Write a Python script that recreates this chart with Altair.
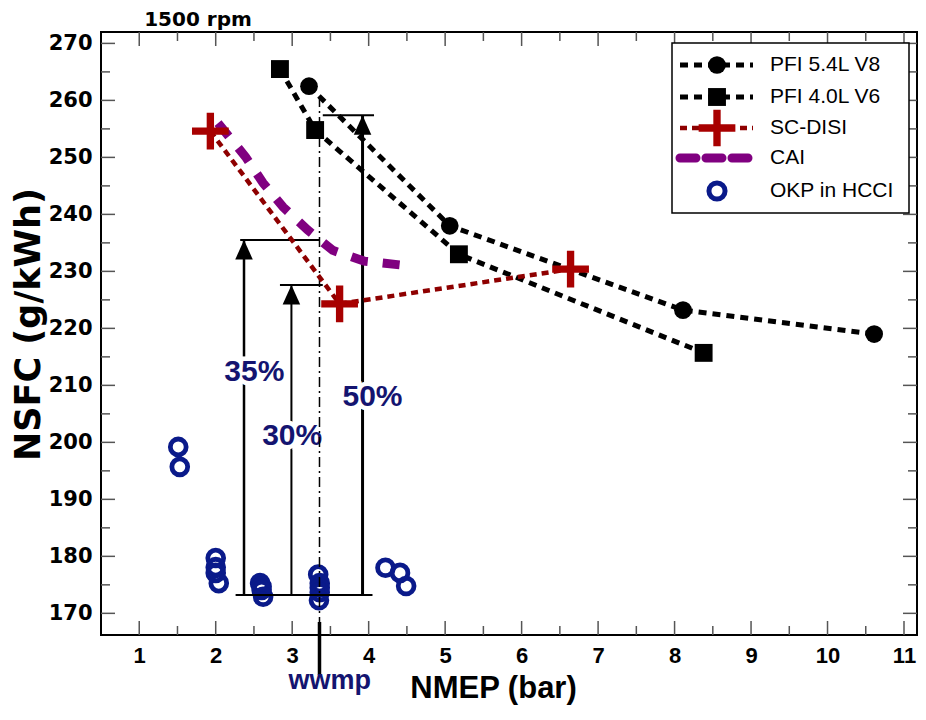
import altair as alt
import pandas as pd

# ---------------- data ----------------
v8_x = [3.22, 5.06, 8.11, 10.61]
v8_y = [262.5, 238.0, 223.2, 219.0]

v6_x = [2.84, 3.30, 5.18, 8.38]
v6_y = [265.5, 254.8, 233.0, 215.7]

disi_x = [1.93, 3.62, 6.64]
disi_y = [254.6, 224.3, 230.4]

cai_x = [2.03, 2.39, 2.62, 2.88, 3.20, 3.53, 3.94, 4.50]
cai_y = [256.0, 250.1, 245.5, 241.3, 237.3, 233.7, 231.8, 231.0]

okp_x = [1.51, 1.53, 2.00, 2.00, 2.00, 2.04, 2.58, 2.60, 2.60, 2.62,
         3.34, 3.36, 3.36, 3.36, 3.35, 4.22, 4.41, 4.49]
okp_y = [199.2, 195.7, 179.7, 178.1, 177.1, 175.3, 175.3, 174.7, 174.1, 172.9,
         176.8, 175.3, 174.5, 173.7, 172.3, 178.0, 177.1, 174.8]

# annotation values
wwmp_x = 3.357
wwmp_top = 260.6
base_y = 173.2
base_x1, base_x2 = 2.26, 4.05
arrow_labels = ["35%", "30%", "50%"]
arrow_x = [2.37, 2.99, 3.92]
arrow_top = [235.5, 227.6, 257.4]
bar_x1 = [2.32, 2.84, 3.40]
bar_x2 = [3.36, 3.40, 4.07]
label_x = [2.505, 3.00, 4.05]
label_y = [212.3, 201.1, 207.9]

x_major = [1, 2, 3, 4, 5, 6, 7, 8, 9, 10, 11]
x_minor = [1.5, 2.5, 3.5, 4.5, 5.5, 6.5, 7.5, 8.5, 9.5, 10.5]
y_major = [170, 180, 190, 200, 210, 220, 230, 240, 250, 260, 270]
y_minor = [175, 185, 195, 205, 215, 225, 235, 245, 255, 265]

legend_names = ["PFI 5.4L V8", "PFI 4.0L V6", "SC-DISI", "CAI", "OKP in HCCI"]

# ---------------- styles / layout ----------------
W, H = 816, 603
NAVY = "#0a1a8a"
TXT_NAVY = "#141470"
RED_M = "#a80000"
RED_L = "#8e0000"
PURPLE = "#800080"
TICK = "#555555"
CROSS = "M-1,-0.2H-0.2V-1H0.2V-0.2H1V0.2H0.2V1H-0.2V0.2H-1Z"
TRI = "M0,-1L-0.9,1L0.9,1Z"
XFONT = "Liberation Sans"

xs = alt.Scale(domain=[0.5, 11.17], nice=False, zero=False)
ys = alt.Scale(domain=[166.2, 272], nice=False, zero=False)

xaxis = alt.Axis(values=x_major, ticks=False, domain=False, grid=False,
                 labelFont=XFONT, labelFontWeight="bold",
                 labelFontSize=22, labelColor="black", labelPadding=10,
                 title="NMEP (bar)", titleFont=XFONT,
                 titleFontWeight="bold", titleFontSize=31, titleColor="black",
                 titleX=392, titleY=53, titleAlign="center", titleBaseline="middle")
yaxis = alt.Axis(values=y_major, ticks=False, domain=False, grid=False,
                 labelFont="DejaVu Sans", labelFontWeight="bold",
                 labelFontSize=21, labelColor="black", labelPadding=9,
                 title="NSFC (g/kWh)", titleFont="DejaVu Sans",
                 titleFontWeight="bold", titleFontSize=35, titleColor="black",
                 titleAngle=270, titleX=-73, titleY=292, titleAlign="center",
                 titleBaseline="middle")


def X(f="x"):
    return alt.X(f + ":Q", scale=xs, axis=xaxis)


def Y(f="y"):
    return alt.Y(f + ":Q", scale=ys, axis=yaxis)


def df(**kw):
    return pd.DataFrame(kw)


one = df(a=[0])
layers = []

# ---- inward ticks on all four sides ----
for vals, ln in ((x_major, 14), (x_minor, 9)):
    d = df(x=vals)
    layers.append(alt.Chart(d).mark_rule(color=TICK, strokeWidth=1.5).encode(
        x=X(), y=alt.value(H), y2=alt.value(H - ln)))
    layers.append(alt.Chart(d).mark_rule(color=TICK, strokeWidth=1.5).encode(
        x=X(), y=alt.value(0), y2=alt.value(ln)))
for vals, ln in ((y_major, 14), (y_minor, 9)):
    d = df(y=vals)
    layers.append(alt.Chart(d).mark_rule(color=TICK, strokeWidth=1.5).encode(
        y=Y(), x=alt.value(0), x2=alt.value(ln)))
    layers.append(alt.Chart(d).mark_rule(color=TICK, strokeWidth=1.5).encode(
        y=Y(), x=alt.value(W), x2=alt.value(W - ln)))

# ---- OKP in HCCI (open circles) ----
layers.append(alt.Chart(df(x=okp_x, y=okp_y)).mark_point(
    shape="circle", size=250, filled=False, stroke=NAVY, strokeWidth=4.8,
    opacity=1).encode(x=X(), y=Y()))

# ---- arrows ----
layers.append(alt.Chart(df(x=[base_x1], x2=[base_x2], y=[base_y])).mark_rule(
    color="black", strokeWidth=2).encode(x=X(), x2="x2:Q", y=Y()))
arrow_w = [2.5, 2.0, 3.0]
for i in range(3):
    layers.append(alt.Chart(df(x=[arrow_x[i]], y=[base_y], y2=[arrow_top[i]])).mark_rule(
        color="black", strokeWidth=arrow_w[i]).encode(x=X(), y=Y(), y2="y2:Q"))
layers.append(alt.Chart(df(x=bar_x1, x2=bar_x2, y=arrow_top)).mark_rule(
    color="black", strokeWidth=2).encode(x=X(), x2="x2:Q", y=Y()))
layers.append(alt.Chart(df(x=arrow_x, y=arrow_top)).mark_point(
    shape=TRI, size=380, filled=True, color="black", opacity=1, yOffset=9.7,
    strokeWidth=0).encode(x=X(), y=Y()))

# ---- percentage labels (with white halo that breaks the lines) ----
lab = df(x=label_x, y=label_y, t=arrow_labels)
layers.append(alt.Chart(lab).mark_text(
    font="Liberation Sans", fontWeight="bold", fontSize=30, fill="white",
    stroke="white", strokeWidth=9, align="center", baseline="middle").encode(
    x=X(), y=Y(), text="t:N"))
layers.append(alt.Chart(lab).mark_text(
    font="Liberation Sans", fontWeight="bold", fontSize=30, color=TXT_NAVY,
    align="center", baseline="middle").encode(x=X(), y=Y(), text="t:N"))

# ---- wwmp dash-dot line ----
layers.append(alt.Chart(df(x=[wwmp_x], y=[wwmp_top], y2=[166.2])).mark_rule(
    color="black", strokeWidth=1.5, strokeDash=[10, 4, 2, 4]).encode(
    x=X(), y=Y(), y2="y2:Q"))
layers.append(alt.Chart(df(x=[wwmp_x])).mark_rule(
    color="black", strokeWidth=3.5).encode(x=X(), y=alt.value(590), y2=alt.value(643)))
layers.append(alt.Chart(df(x=[3.49])).mark_text(
    font="Liberation Sans", fontWeight="bold", fontSize=27, color=TXT_NAVY,
    align="center", baseline="alphabetic").encode(
    x=X(), y=alt.value(657), text=alt.value("wwmp")))

# ---- series lines ----
layers.append(alt.Chart(df(x=v8_x, y=v8_y)).mark_line(
    color="black", strokeWidth=5, strokeDash=[8, 6]).encode(x=X(), y=Y()))
layers.append(alt.Chart(df(x=v6_x, y=v6_y)).mark_line(
    color="black", strokeWidth=5, strokeDash=[8, 6]).encode(x=X(), y=Y()))
layers.append(alt.Chart(df(x=disi_x, y=disi_y)).mark_line(
    color=RED_L, strokeWidth=4.5, strokeDash=[7, 5]).encode(x=X(), y=Y()))
layers.append(alt.Chart(df(x=cai_x, y=cai_y)).mark_line(
    color=PURPLE, strokeWidth=9, strokeDash=[17, 15]).encode(x=X(), y=Y()))

# ---- series markers ----
layers.append(alt.Chart(df(x=v8_x, y=v8_y)).mark_point(
    shape="circle", size=314, filled=True, color="black", opacity=1).encode(x=X(), y=Y()))
layers.append(alt.Chart(df(x=v6_x, y=v6_y)).mark_point(
    shape="square", size=320, filled=True, color="black", opacity=1).encode(x=X(), y=Y()))
layers.append(alt.Chart(df(x=disi_x, y=disi_y)).mark_point(
    shape=CROSS, size=1350, filled=True, color=RED_M, opacity=1, strokeWidth=0).encode(x=X(), y=Y()))

# ---- legend (drawn by hand) ----
LX0, LX1, LY0, LY1 = 571, 808, 11, 181
row_y = [33, 65, 96, 126, 159]
sym_x, ln_x0, ln_x1, txt_x = 616, 579, 652, 669
layers.append(alt.Chart(one).mark_rect(fill="white", stroke="black", strokeWidth=1.5).encode(
    x=alt.value(LX0), x2=alt.value(LX1), y=alt.value(LY0), y2=alt.value(LY1)))
line_styles = [
    dict(color="black", strokeWidth=5, strokeDash=[8, 6]),
    dict(color="black", strokeWidth=5, strokeDash=[8, 6]),
    dict(color=RED_L, strokeWidth=4.5, strokeDash=[7, 5]),
    dict(color=PURPLE, strokeWidth=9, strokeDash=[16, 10], strokeCap="round"),
]
for i, st in enumerate(line_styles):
    layers.append(alt.Chart(one).mark_rule(**st).encode(
        x=alt.value(ln_x0), x2=alt.value(ln_x1), y=alt.value(row_y[i])))
marker_styles = [
    dict(shape="circle", size=314, filled=True, color="black", opacity=1),
    dict(shape="square", size=320, filled=True, color="black", opacity=1),
    dict(shape=CROSS, size=1350, filled=True, color=RED_M, opacity=1, strokeWidth=0),
    None,
    dict(shape="circle", size=260, filled=False, stroke=NAVY, strokeWidth=5, opacity=1),
]
for i, st in enumerate(marker_styles):
    if st is None:
        continue
    layers.append(alt.Chart(one).mark_point(**st).encode(
        x=alt.value(sym_x), y=alt.value(row_y[i])))
for i, name in enumerate(legend_names):
    layers.append(alt.Chart(one).mark_text(
        font="Liberation Sans", fontSize=21, color="black", align="left",
        baseline="middle").encode(
        x=alt.value(txt_x), y=alt.value(row_y[i]), text=alt.value(name)))

# ---- "1500 rpm" ----
layers.append(alt.Chart(one).mark_text(
    font="DejaVu Sans", fontWeight="bold", fontSize=20, color="black",
    align="center", baseline="middle").encode(
    x=alt.value(97), y=alt.value(-12), text=alt.value("1500 rpm")))

chart = alt.layer(*layers).properties(
    width=W, height=H,
    autosize=alt.AutoSizeParams(type="none"),
    padding={"left": 93, "top": 24, "right": 1, "bottom": 71},
    background="white",
).configure_view(stroke="black", strokeWidth=2)

chart.save("out.html", embed_options={"renderer": "svg", "actions": False})
